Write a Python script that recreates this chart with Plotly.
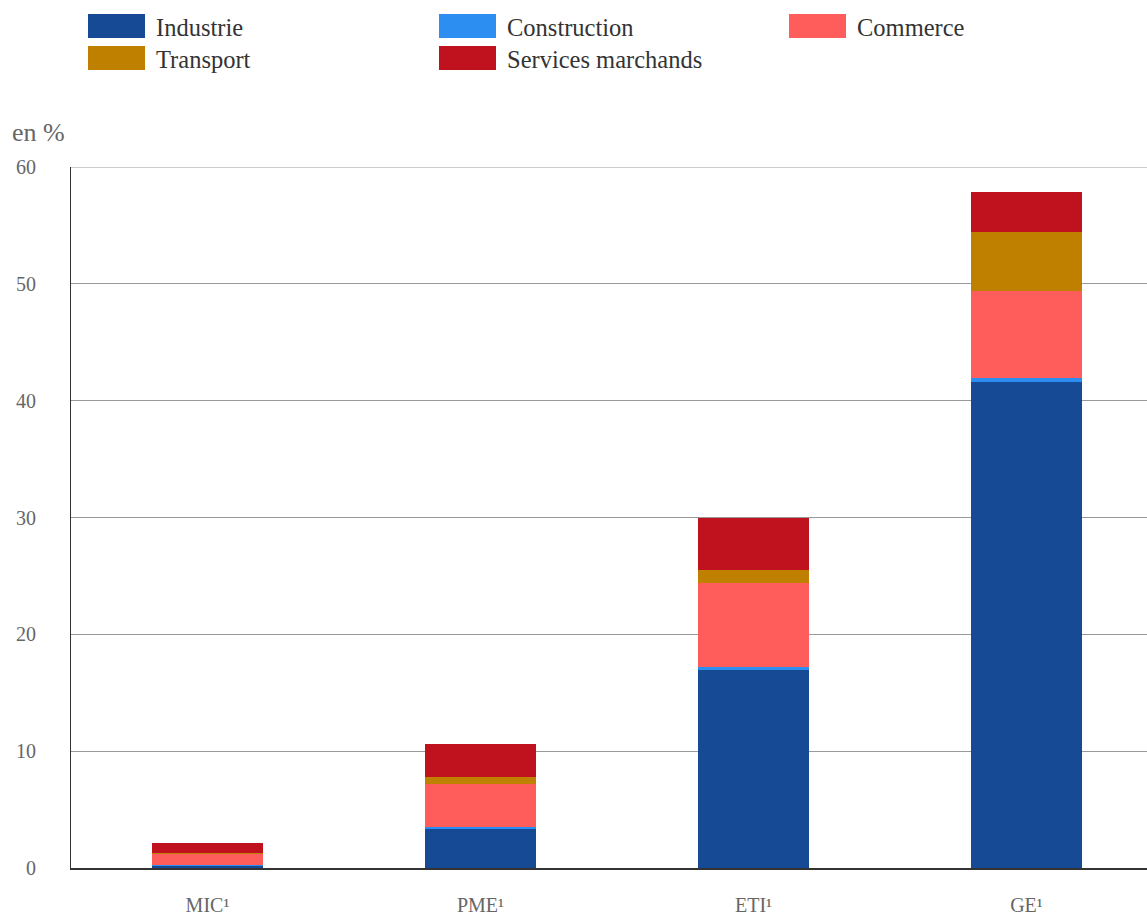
import plotly.graph_objects as go

categories = ["MIC¹", "PME¹", "ETI¹", "GE¹"]
industrie = [0.25, 3.37, 16.95, 41.57]
construction = [0.03, 0.17, 0.29, 0.34]
commerce = [0.95, 3.65, 7.19, 7.47]
transport = [0.05, 0.63, 1.08, 5.08]
services = [0.85, 2.80, 4.42, 3.37]

series_names = ["Industrie", "Construction", "Commerce", "Transport", "Services marchands"]
series_values = [industrie, construction, commerce, transport, services]
colors = ["#174A94", "#2B8EF0", "#FF5C5C", "#BF8000", "#C0111F"]

SERIF = "Liberation Serif, Times New Roman, Tinos, serif"

W, H = 1147, 919
L, R, T, B = 71, 0, 167, 51
PW, PH = W - L - R, H - T - B

fig = go.Figure()
for name, vals, col in zip(series_names, series_values, colors):
    fig.add_trace(go.Bar(
        x=categories, y=vals, name=name, marker_color=col,
        marker_line_width=0, width=0.41, showlegend=False,
    ))

def px_x(p):
    return (p - L) / PW

def px_y(p):
    return (H - B - p) / PH

# manual legend (large swatches)
legend_pos = [(88, 14), (439, 14), (789, 14), (88, 46), (439, 46)]
shapes = [dict(type="line", xref="paper", yref="y", x0=0, x1=1, y0=60, y1=60,
               line=dict(color="#999999", width=1), layer="below")]
annotations = []
for (x0, y0), name, col in zip(legend_pos, series_names, colors):
    shapes.append(dict(type="rect", xref="paper", yref="paper",
                       x0=px_x(x0), x1=px_x(x0 + 57), y0=px_y(y0 + 24), y1=px_y(y0),
                       fillcolor=col, line=dict(width=0)))
    annotations.append(dict(text=name, xref="paper", yref="paper",
                            x=px_x(x0 + 66), y=px_y(y0 + 13), xanchor="left", yanchor="middle",
                            showarrow=False, font=dict(size=24.5, color="#333333", family=SERIF)))

annotations.append(dict(text="en %", xref="paper", yref="paper",
                        x=px_x(10), y=px_y(133), xanchor="left", yanchor="middle",
                        showarrow=False, font=dict(size=26, color="#666666", family=SERIF)))

fig.update_layout(
    width=W, height=H,
    margin=dict(l=L, r=R, t=T, b=B),
    barmode="stack",
    plot_bgcolor="white", paper_bgcolor="white",
    font=dict(family=SERIF, color="#666666", size=20),
    shapes=shapes, annotations=annotations,
    xaxis=dict(range=[-0.5, -0.5 + PW / 273.0], showgrid=False, automargin=False,
               showline=True, linecolor="#333333", linewidth=2,
               ticks="", ticklabelstandoff=18,
               tickfont=dict(size=20, color="#666666", family=SERIF)),
    yaxis=dict(range=[0, 60], tickvals=[0, 10, 20, 30, 40, 50, 60], automargin=False,
               showgrid=True, gridcolor="#999999", gridwidth=1,
               showline=True, linecolor="#333333", linewidth=1,
               zeroline=False, ticks="", ticklabelstandoff=30,
               tickfont=dict(size=20, color="#666666", family=SERIF)),
)

fig.write_html("out.html")
